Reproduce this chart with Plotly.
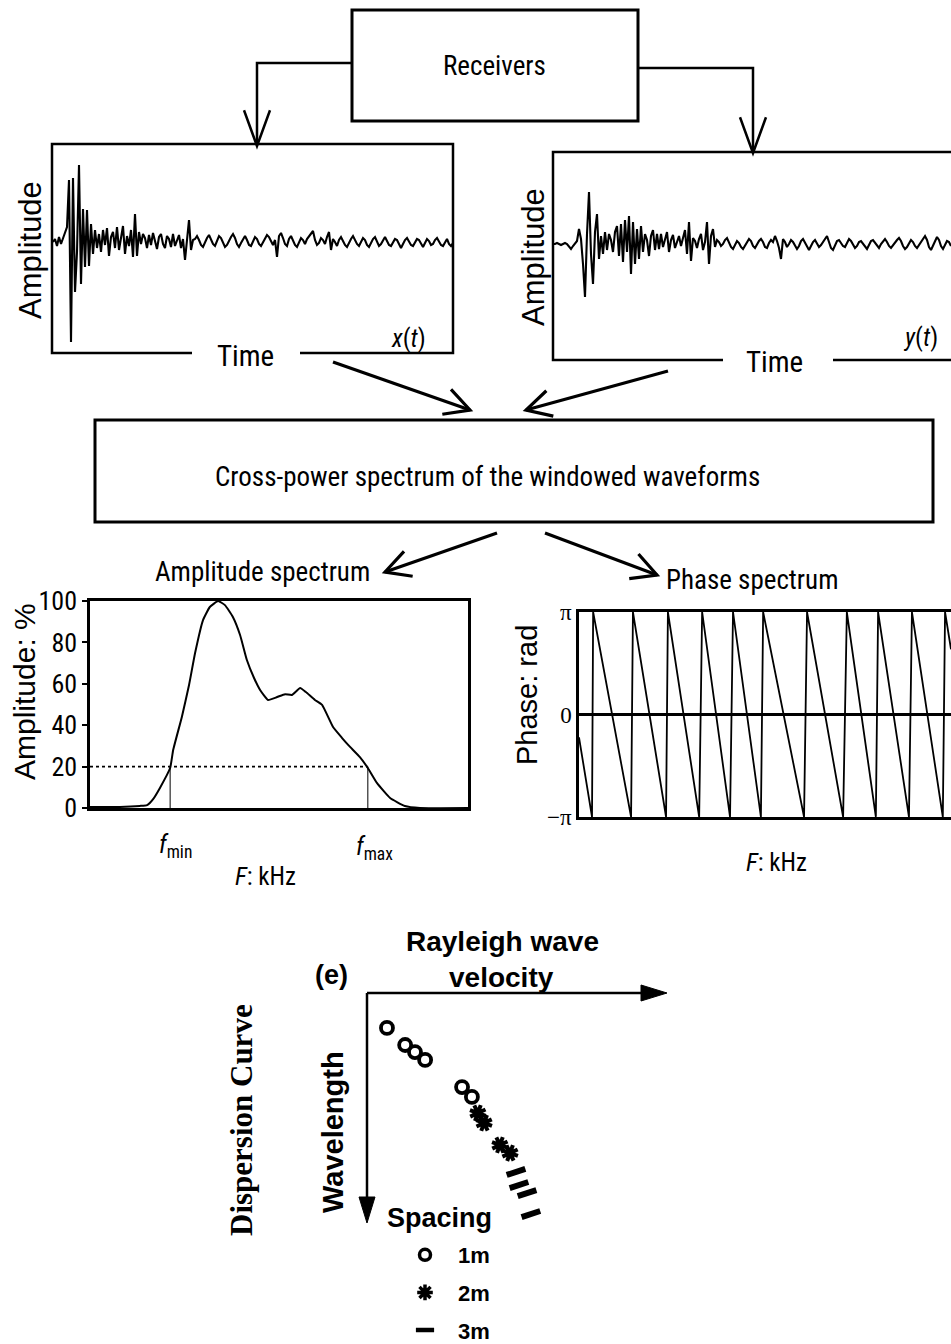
import math
import plotly.graph_objects as go

W, H = 951, 1344
PI = math.pi

# ---------------- data ----------------
# receiver waveform x(t) (arbitrary amplitude units, one value per sample)
x_wave = [0, 3, -4, 5, -2,
          3, 8, 15, 62, -100, 64, -50, -10, 77, -42, 33, -25, 32, -24, 18, -12, 12, -6,
          8, -10, 12, -3, 14, -14, 5, 10, -6, 15, -8, 4, 16, -12, 6, -4, 12, -15, 28, -14, 10, -2, 8,
          4, -6, 7, -3, 9, 2, -7, 5, 8, -2, -6, 6, 3, -5, 8, -4, 2, 7, -6, 3, -18, 6, 22, -8, 2,
          3, 6, 2, -3, -5, 0, 4, 7, 3, -2,
          -4, 1, 6, 4, -1, -5, -3, 2, 5, 8,
          4, -2, -5, -1, 3, 6, 2, -3, -4, 1,
          5, 3, -2, -4, 0, 4, 7, 5, 1, -3,
          2, -15, 6, 9, 4, -2, -4, 3, 6, 2,
          -3, -5, 0, 4, 2, -2, 3, 6, 8, 11,
          2, -3, -1, 4, 2, -2, 5, 10, -8, 3,
          0, -4, 2, 5, 1, -3, -5, 0, 3, 6,
          2, -2, -4, 1, 4, 2, -3, -5, -1, 3,
          5, 1, -4, -2, 2, 5, 1, -3, -4, 0,
          3, 2, -3, -6, -2, 2, 4, 1, -3, -4,
          0, 3, 2, -2, -5, -1, 3, 1, -3, -2,
          2, 4, 0, -3, -4, 0, 3, -2, -4, -1]

# receiver waveform y(t)
y_wave = [0, 0, 1, 0, -1, 0, 1, 0, -2, -5, -2, 0, 3,
          15, 5, -20, -53, 10, 52, -10, -40, 12, 30, -15,
          8, -10, 12, -6, 10, 4, -8, 12,
          18, -12, 20, -18, 24, -8, 28, -30, 22, -20, 15, -15, 18, -8, 10, 4, -12, 8, 14, -6, 10,
          -5, 10, -3, 6, 12, -8, 4, 9, -4, 2,
          8, -2, 5, 14, -10, 22, -17, 6, 3, -4,
          5, 10, -6, 2, 22, -20, 8, 15, -3, 4,
          2, -2, 0, 4, 6, 2, -3, -5, -1, 3,
          1, -3, -5, -2, 2, 5, 3, -2, -4, 0,
          3, 5, 2, -3, -4, 1, 4, 2, 8, 3,
          -4, -15, 5, 2, -3, 0, 4, 2, -2, -5,
          -2, 3, 5, 1, -3, -6, -2, 2, 4, 1,
          -3, -1, 2, 6, 8, 2, -4, -6, -2, 3,
          4, 1, -2, -3, 2, 5, 3, -1, -4, -2,
          2, 3, 0, -3, -5, -1, 3, 4, 1, -2,
          -4, 0, 3, 5, 2, -2, -4, -1, 2, 4,
          6, 3, -2, -5, -3, 1, 4, 2, -2, -4,
          -1, 3, 5, 8, 4, -3, -6, -2, 3, 7,
          4, -2, -5, -1, 3, 2, -2]

# amplitude spectrum (F normalised 0-100, amplitude %)
amp_f = [0, 7.9, 13.2, 15.1, 16.7, 18.5, 21.2, 22.0, 24.3, 26.2, 27.8, 29.9, 31.7, 33.9,
         35.7, 37.8, 39.7, 41.5, 43.4, 45.0, 47.1, 49.5, 51.6, 53.4, 55.6, 57.1, 59.5,
         61.4, 64.3, 66.7, 68.8, 71.4, 73.5, 75.9, 79.4, 83.3, 87.3, 100]
amp_v = [0.5, 0.5, 1.0, 1.4, 4.3, 9.7, 19.3, 28, 44, 59.4, 74.9, 90.8, 97.1, 100,
         98, 92.3, 83.6, 71.5, 62.8, 57, 52.2, 53.6, 55, 54.6, 58, 56, 52.2,
         49.8, 39.1, 33.8, 29.5, 24.6, 19.3, 12.1, 4.8, 1.0, 0, 0]
amp_ticks = [0, 20, 40, 60, 80, 100]
threshold = 20
f_min = 21.2
f_max = 73.5

# phase spectrum: wrap points (F where phase reaches -pi, then jumps to +pi)
phase_start = (0.0, -0.7)
phase_bottom = [3.5, 14.0, 23.4, 32.3, 40.6, 48.9, 60.5, 71.0, 79.8, 88.7, 97.8]
phase_top = [3.8, 14.5, 23.9, 33.1, 41.4, 49.5, 61.3, 72.0, 80.4, 89.5, 98.4]
phase_end = (100.0, 2.0)
phase_ticks = [-PI, 0, PI]
phase_ticktext = ["−π", "0", "π"]

# dispersion curve (velocity, wavelength; arbitrary units)
d1_v = [6.7, 12.8, 16.1, 19.5, 31.9, 35.2]
d1_l = [15.2, 22.6, 25.7, 29.1, 40.9, 45.2]
d2_v = [37.2, 39.3, 44.6, 48.0]
d2_l = [52.2, 56.5, 66.1, 69.6]
d3_v = [50.0, 51.0, 53.7, 55.0, 56.4]
d3_l = [77.8, 83.5, 87.0, 96.1, 102.2]
spacing_names = ["1m", "2m", "3m"]

# ---------------- helpers ----------------
NARROW = "Liberation Sans Narrow, Arial Narrow, Roboto Condensed, Liberation Sans, sans-serif"
SANS = "Liberation Sans, Arial, sans-serif"
SERIF = "Liberation Serif, Times New Roman, serif"


def px(x):
    return x / W


def py(y):
    return 1 - y / H


shapes = []
annotations = []


def line(x0, y0, x1, y1, w=2.5):
    shapes.append(dict(type="line", xref="paper", yref="paper",
                       x0=px(x0), y0=py(y0), x1=px(x1), y1=py(y1),
                       line=dict(color="black", width=w)))


def polyline(pts, w=2.5):
    d = "M " + " L ".join(f"{px(a):.5f},{py(b):.5f}" for a, b in pts)
    shapes.append(dict(type="path", xref="paper", yref="paper", path=d,
                       line=dict(color="black", width=w)))


def vhead(tail, tip, L=28, ang=28, w=3):
    dx, dy = tail[0] - tip[0], tail[1] - tip[1]
    n = math.hypot(dx, dy)
    ux, uy = dx / n, dy / n
    pts = []
    for s in (1, -1):
        a = math.radians(ang) * s
        rx = ux * math.cos(a) - uy * math.sin(a)
        ry = ux * math.sin(a) + uy * math.cos(a)
        pts.append((tip[0] + rx * L, tip[1] + ry * L))
    polyline([pts[0], tip, pts[1]], w)


def arrow(tail, tip, w=3.2):
    line(tail[0], tail[1], tip[0], tip[1], w)
    vhead(tail, tip, w=w)


def tri_head(tip, direction, L=26, half=8):
    ux, uy = direction
    bx, by = tip[0] - ux * L, tip[1] - uy * L
    p1 = (bx - uy * half, by + ux * half)
    p2 = (bx + uy * half, by - ux * half)
    d = f"M {px(tip[0])},{py(tip[1])} L {px(p1[0])},{py(p1[1])} L {px(p2[0])},{py(p2[1])} Z"
    shapes.append(dict(type="path", xref="paper", yref="paper", path=d,
                       fillcolor="black", line=dict(color="black", width=1)))


def rect(x0, y0, x1, y1, w=3):
    shapes.append(dict(type="rect", xref="paper", yref="paper",
                       x0=px(x0), y0=py(y1), x1=px(x1), y1=py(y0),
                       line=dict(color="black", width=w)))


def text(t, x, y, size, family=NARROW, angle=0, xanchor="center"):
    annotations.append(dict(text=t, x=px(x), y=py(y), xref="paper", yref="paper",
                            showarrow=False, xanchor=xanchor, yanchor="middle",
                            textangle=angle,
                            font=dict(size=size, family=family, color="black")))


def dom_x(a, b):
    return [px(a), min(px(b), 1.0)]


def dom_y(top, bottom):
    return [py(bottom), py(top)]


# ---------------- diagram structure ----------------
rect(352, 10, 638, 121, 3)
text("Receivers", 494, 66, 27)
polyline([(352, 63), (257, 63), (257, 145)], 2.5)
vhead((257, 63), (257, 146), L=38, ang=20, w=2.5)
polyline([(638, 68), (753, 68), (753, 152)], 2.5)
vhead((753, 68), (753, 153), L=38, ang=20, w=2.5)

# left waveform frame
polyline([(192, 353), (52, 353), (52, 144), (453, 144), (453, 353), (300, 353)], 2.5)
text("Amplitude", 30, 250, 31, SANS, -90)
text("Time", 245, 356, 29)
text("<i>x</i>(<i>t</i>)", 408, 338, 25)

# right waveform frame
polyline([(723, 360), (553, 360), (553, 152), (951, 152)], 2.5)
line(833, 360, 951, 360, 2.5)
text("Amplitude", 533, 257, 31, SANS, -90)
text("Time", 774, 362, 29)
text("<i>y</i>(<i>t</i>)", 920, 337, 25)

arrow((333, 362), (470, 410))
arrow((668, 371), (526, 410))

rect(95, 420, 933, 522, 3)
text("Cross-power spectrum of the windowed waveforms", 487, 477, 27)

arrow((497, 533), (385, 572))
arrow((545, 533), (657, 575))
text("Amplitude spectrum", 262, 572, 27)
text("Phase spectrum", 752, 580, 27)

# amplitude spectrum labels
text("Amplitude: %", 25, 692, 30, SANS, -90)
text("<i>f</i><sub>min</sub>", 175, 846, 25)
text("<i>f</i><sub>max</sub>", 374, 848, 25)
text("<i>F</i>: kHz", 265, 876, 25)

# phase spectrum labels
text("Phase: rad", 527, 695, 29, SANS, -90)
text("<i>F</i>: kHz", 776, 862, 25)

# dispersion section
text("<b>Dispersion Curve</b>", 241, 1120, 31, SERIF, -90)
text("<b>(e)</b>", 331, 975, 27, SANS)
text("<b>Rayleigh wave</b>", 502, 942, 28, SANS)
text("<b>velocity</b>", 501, 977, 28, SANS)
text("<b>Wavelength</b>", 333, 1132, 29, SANS, -90)
text("<b>Spacing</b>", 439, 1218, 27, SANS)
line(367, 993, 645, 993, 2.5)
tri_head((667, 993), (1, 0))
line(367, 993, 367, 1203, 2.5)
tri_head((367, 1223), (0, 1))

# ---------------- traces ----------------
fig = go.Figure()
common = dict(mode="lines", hoverinfo="skip", showlegend=False)
fig.add_trace(go.Scatter(x=list(range(len(x_wave))), y=x_wave, xaxis="x", yaxis="y",
                         line=dict(color="black", width=2.1), **common))
fig.add_trace(go.Scatter(x=list(range(len(y_wave))), y=y_wave, xaxis="x2", yaxis="y2",
                         line=dict(color="black", width=2.1), **common))

# amplitude spectrum
fig.add_trace(go.Scatter(x=amp_f, y=amp_v, xaxis="x3", yaxis="y3",
                         line=dict(color="black", width=2, shape="spline", smoothing=0.4), **common))
fig.add_trace(go.Scatter(x=[0, f_max], y=[threshold, threshold], xaxis="x3", yaxis="y3",
                         line=dict(color="black", width=1.6, dash="dot"), **common))
fig.add_trace(go.Scatter(x=[f_min, f_min, None, f_max, f_max],
                         y=[0, threshold, None, 0, threshold], xaxis="x3", yaxis="y3",
                         line=dict(color="black", width=1), **common))

# phase spectrum (wrapped sawtooth)
ph_x = [phase_start[0]]
ph_y = [phase_start[1]]
for b, t in zip(phase_bottom, phase_top):
    ph_x += [b, t]
    ph_y += [-PI, PI]
ph_x.append(phase_end[0])
ph_y.append(phase_end[1])
fig.add_trace(go.Scatter(x=ph_x, y=ph_y, xaxis="x4", yaxis="y4",
                         line=dict(color="black", width=1.8), **common))

# dispersion curve markers
mk = dict(mode="markers", hoverinfo="skip", showlegend=False, xaxis="x5", yaxis="y5",
          cliponaxis=False)
fig.add_trace(go.Scatter(x=d1_v, y=d1_l, marker=dict(symbol="circle-open", size=12,
                         color="black", line=dict(width=3.8, color="black")), **mk))
fig.add_trace(go.Scatter(x=d2_v, y=d2_l, marker=dict(symbol="asterisk-open", size=14, angle=20,
                         color="black", line=dict(width=4, color="black")), **mk))
fig.add_trace(go.Scatter(x=d3_v, y=d3_l, marker=dict(symbol="line-ew-open", size=14, angle=-18,
                         color="black", line=dict(width=6, color="black")), **mk))

# legend entries
leg_markers = [dict(symbol="circle-open", size=11, line=dict(width=3.5, color="black")),
               dict(symbol="asterisk-open", size=13, line=dict(width=3.5, color="black")),
               dict(symbol="line-ew-open", size=13, line=dict(width=4.5, color="black"))]
for name, m in zip(spacing_names, leg_markers):
    fig.add_trace(go.Scatter(x=[None], y=[None], xaxis="x5", yaxis="y5", mode="markers",
                             name=f"<b>{name}</b>", legendgroup=name,
                             marker=dict(color="black", **m)))

hidden = dict(visible=False, fixedrange=True)
fig.update_layout(
    template="none",
    width=W, height=H,
    margin=dict(l=0, r=0, t=0, b=0, pad=0, autoexpand=False),
    paper_bgcolor="white", plot_bgcolor="rgba(0,0,0,0)",
    showlegend=True,
    legend=dict(x=px(392), y=py(1234), xanchor="left", yanchor="top",
                font=dict(family=SANS, size=22, color="black"),
                itemwidth=56, tracegroupgap=6, bgcolor="rgba(0,0,0,0)", borderwidth=0),
    xaxis=dict(domain=dom_x(52, 453), range=[-0.5, 200], **hidden),
    yaxis=dict(domain=dom_y(144, 353), range=[-111, 98], anchor="x", **hidden),
    xaxis2=dict(domain=dom_x(553, 951), range=[0, 199], anchor="y2", **hidden),
    yaxis2=dict(domain=dom_y(152, 360), range=[-116, 92], anchor="x2", **hidden),
    xaxis3=dict(domain=dom_x(90, 468), range=[0, 100], anchor="y3", automargin=False,
                showline=True, mirror=True, linewidth=2.5, linecolor="black",
                showticklabels=False, ticks="", showgrid=False, zeroline=False),
    yaxis3=dict(domain=dom_y(601, 808), range=[0, 100], anchor="x3", automargin=False,
                showline=True, mirror=True, linewidth=2.5, linecolor="black",
                tickvals=amp_ticks, ticks="outside", ticklen=5, tickwidth=2,
                tickcolor="black", tickfont=dict(family=NARROW, size=26, color="black"),
                showgrid=False, zeroline=False),
    xaxis4=dict(domain=dom_x(579, 951), range=[0, 100], anchor="y4", automargin=False,
                showline=True, mirror=True, linewidth=2.5, linecolor="black",
                showticklabels=False, ticks="", showgrid=False, zeroline=False),
    yaxis4=dict(domain=dom_y(612, 817), range=[-PI, PI], anchor="x4", automargin=False,
                showline=True, mirror=False, linewidth=2.5, linecolor="black",
                tickvals=phase_ticks, ticktext=phase_ticktext,
                ticks="", tickfont=dict(family=SERIF, size=23, color="black"),
                showgrid=False, zeroline=True, zerolinewidth=3, zerolinecolor="black"),
    xaxis5=dict(domain=dom_x(367, 665), range=[0, 100], anchor="y5", **hidden),
    yaxis5=dict(domain=dom_y(993, 1223), range=[100, 0], anchor="x5", **hidden),
    shapes=shapes,
    annotations=annotations,
)

fig.write_html("out.html", config={"displayModeBar": False},
               post_script="document.body.style.margin='0px';")
